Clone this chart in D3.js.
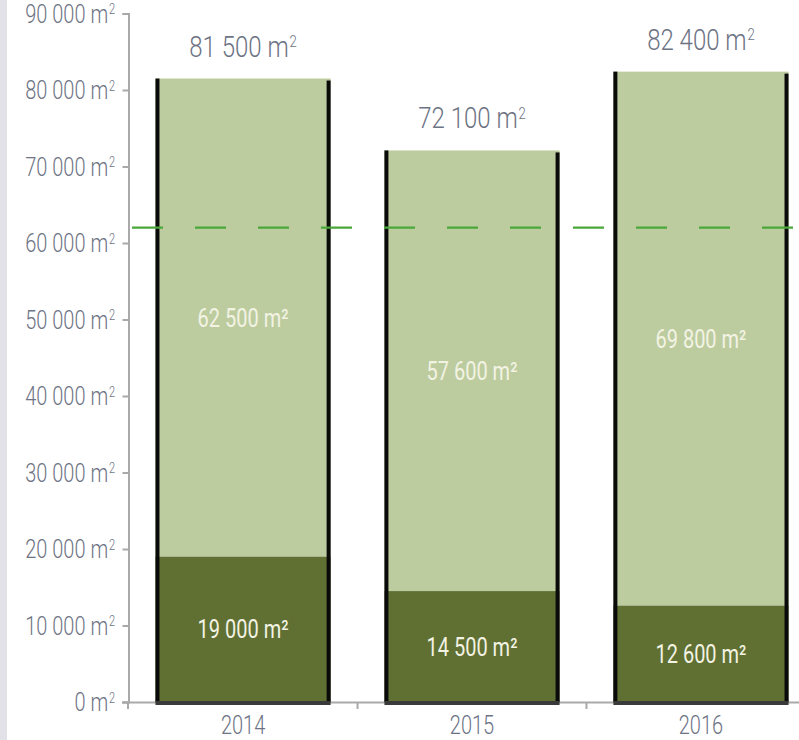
<!DOCTYPE html>
<html><head><meta charset="utf-8">
<script src="https://cdn.jsdelivr.net/npm/d3@7"></script>
<style>
body{margin:0;background:#fff;}
svg{display:block;}
text{font-family:Roboto,"Liberation Sans",sans-serif;}
</style>
</head><body>
<svg id="c" width="799" height="740"></svg>
<script>
// ---- data ----
const years = ["2014", "2015", "2016"];
const darkValues = [19000, 14500, 12600];
const lightValues = [62500, 57600, 69800];
const totalValues = [81500, 72100, 82400];
const yTicks = [0, 10000, 20000, 30000, 40000, 50000, 60000, 70000, 80000, 90000];
const targetValue = 62000;
const unit = "m";

// ---- setup ----
const W = 799, H = 740;
const svg = d3.select("#c");
const x = d3.scaleBand().domain(years).range([128, 816]).paddingInner(0.235).paddingOuter(0.12);
const y = d3.scaleLinear().domain([0, 90000]).range([702, 13.5]);
const fmt = v => d3.format(",")(v).replace(/,/g, " ");
const SX = 0.8;
const axisGray = "#a9a9a9";
const labelGray = "#6d7384";

function supLabel(g, px, py, anchor, size, color, num) {
  const t = g.append("text")
    .attr("transform", `translate(${px},${py}) scale(${SX},1)`)
    .attr("text-anchor", anchor)
    .attr("font-size", size)
    .attr("font-weight", 300)
    .attr("fill", color);
  t.append("tspan").text(num + " " + unit);
  const s = size * 0.55;
  t.append("tspan").attr("font-size", s).attr("dx", 1).attr("dy", -size * 0.33).text("2");
  return t;
}

// left strip
svg.append("rect").attr("x", 0).attr("y", 0).attr("width", 7).attr("height", H).attr("fill", "#e1e1e7");

// y axis
const yAxis = svg.append("g").attr("transform", "translate(128.5,0)")
  .call(d3.axisLeft(y).tickValues(yTicks).tickSize(6).tickSizeOuter(6).tickFormat(""));
yAxis.selectAll("path,line").attr("stroke", axisGray).attr("stroke-width", 2);
yAxis.selectAll(".tick text").remove();
yTicks.forEach(v => {
  supLabel(svg, 115, y(v) + 9, "end", 25, labelGray, fmt(v));
});

// x axis
const xAxisY = 702.5;
svg.append("line").attr("x1", 122).attr("x2", W).attr("y1", xAxisY).attr("y2", xAxisY)
  .attr("stroke", axisGray).attr("stroke-width", 2);
const xTickPos = [x.range()[0]].concat(years.slice(1).map(d => x(d) - x.step() * x.paddingInner() / 2));
svg.selectAll(".xtick").data(xTickPos).join("line")
  .attr("x1", d => d).attr("x2", d => d)
  .attr("y1", xAxisY).attr("y2", xAxisY + 6.5)
  .attr("stroke", axisGray).attr("stroke-width", 2);
years.forEach(yr => {
  svg.append("text")
    .attr("transform", `translate(${x(yr) + x.bandwidth() / 2},734) scale(${SX},1)`)
    .attr("text-anchor", "middle").attr("font-size", 25).attr("font-weight", 300)
    .attr("fill", labelGray).text(yr);
});

// bars
const bars = svg.append("g");
years.forEach((yr, i) => {
  const x0 = x(yr), bw = x.bandwidth();
  const top = y(totalValues[i]);
  const mid = y(darkValues[i]);
  bars.append("rect").attr("x", x0).attr("y", top).attr("width", bw).attr("height", mid - top).attr("fill", "#bdcc9f");
  bars.append("rect").attr("x", x0).attr("y", mid).attr("width", bw).attr("height", y(0) - mid).attr("fill", "#607033");
  bars.append("rect").attr("x", x0).attr("y", top).attr("width", 4).attr("height", y(0) - top).attr("fill", "#0a0a0a");
  bars.append("rect").attr("x", x0 + bw - 4).attr("y", top + 2).attr("width", 4).attr("height", y(0) - top - 2).attr("fill", "#0a0a0a");
  bars.append("rect").attr("x", x0).attr("y", y(0) - 1).attr("width", bw).attr("height", 4).attr("fill", "#3a3a3a");
});

// target dashed line
svg.append("line").attr("x1", 132).attr("x2", W).attr("y1", y(targetValue)).attr("y2", y(targetValue))
  .attr("stroke", "#4aa83b").attr("stroke-width", 2.2).attr("stroke-dasharray", "31,32");

// labels
years.forEach((yr, i) => {
  const cx = x(yr) + x.bandwidth() / 2;
  const top = y(totalValues[i]);
  const mid = y(darkValues[i]);
  supLabel(svg, cx, top - 22, "middle", 30, labelGray, fmt(totalValues[i]));
  svg.append("text")
    .attr("transform", `translate(${cx},${(top + mid) / 2 + 9}) scale(${SX},1)`)
    .attr("text-anchor", "middle").attr("font-size", 25).attr("fill", "#f3f3e4")
    .text(fmt(lightValues[i]) + " m²");
  svg.append("text")
    .attr("transform", `translate(${cx},${(mid + y(0)) / 2 + 9}) scale(${SX},1)`)
    .attr("text-anchor", "middle").attr("font-size", 25).attr("fill", "#f3f3e4")
    .text(fmt(darkValues[i]) + " m²");
});
</script>
</body></html>
